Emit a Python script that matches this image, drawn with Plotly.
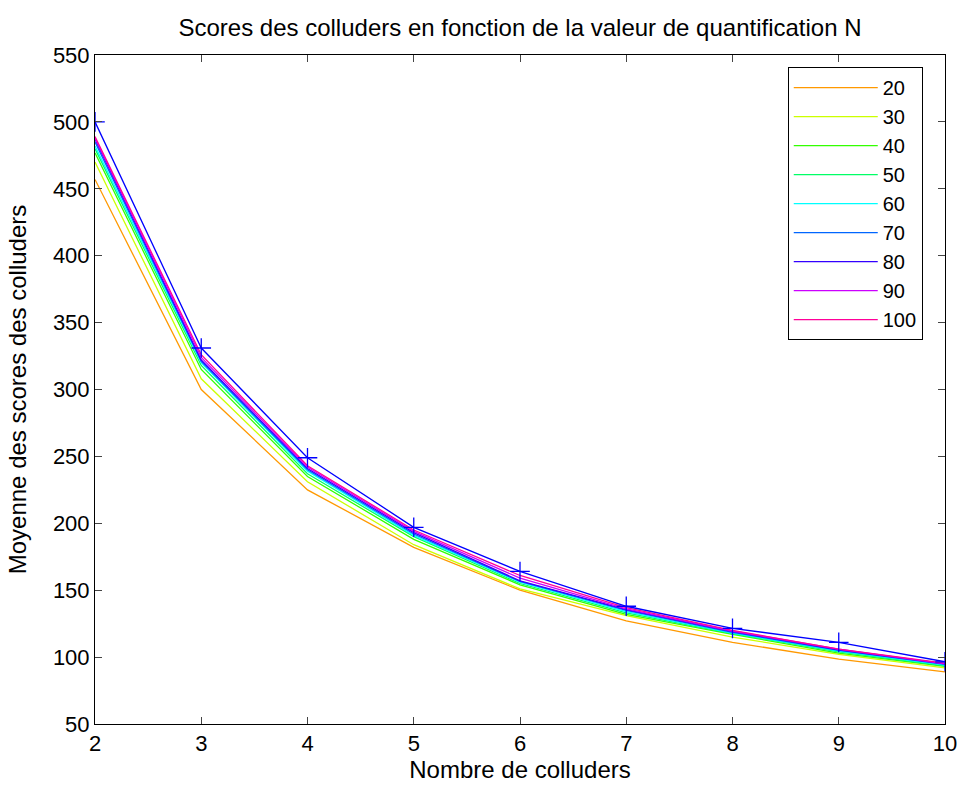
import plotly.graph_objects as go

colluders = [2, 3, 4, 5, 6, 7, 8, 9, 10]
n_values = ['20', '30', '40', '50', '60', '70', '80', '90', '100']

scores_20 = [457, 300, 225, 182, 150, 127, 111, 98.5, 89]
scores_30 = [470, 308, 231, 184, 151, 131, 115, 102, 92]
scores_40 = [477, 315, 235, 188, 154, 132, 117, 103, 93]
scores_50 = [480, 318, 237, 190, 155, 133, 117.5, 104, 93.5]
scores_60 = [482, 320, 239, 191, 156, 134, 118, 104.5, 94]
scores_70 = [485, 321, 240, 192, 156.5, 135, 118.5, 105, 94.5]
scores_80 = [487, 322, 241, 193, 157, 135.5, 119, 105.5, 95]
scores_90 = [488, 324, 242, 194, 159, 136, 119.5, 106, 95]
scores_100 = [489, 326, 243, 195, 161, 137, 120, 106, 95.5]
scores_ref = [500, 331, 249, 197, 164, 138, 121.5, 111, 96.5]

series = [scores_20, scores_30, scores_40, scores_50, scores_60,
          scores_70, scores_80, scores_90, scores_100]
# hsv(10) colormap, first (red) unused
colors = ['#ff9900', '#ccff00', '#33ff00', '#00ff66', '#00ffff',
          '#0066ff', '#3300ff', '#cc00ff', '#ff0099']

fig = go.Figure()
for name, vals, col in zip(n_values, series, colors):
    fig.add_trace(go.Scatter(x=colluders, y=vals, name=name, mode='lines',
                             line=dict(color=col, width=1.3)))

fig.add_trace(go.Scatter(x=colluders, y=scores_ref, mode='lines+markers',
                         showlegend=False,
                         line=dict(color='#0000ff', width=1.3),
                         marker=dict(symbol='cross-thin-open', size=14,
                                     line=dict(color='#0000ff', width=1.3))))

axis_common = dict(showline=True, linecolor='black', linewidth=1, mirror='ticks',
                   ticks='inside', ticklen=7, tickcolor='#444', showgrid=False,
                   zeroline=False, automargin=False,
                   tickfont=dict(size=22, color='black'))

fig.update_xaxes(range=[2, 10], dtick=1, **axis_common,
                 title=dict(text='Nombre de colluders', font=dict(size=24, color='black'),
                            standoff=0))
fig.update_yaxes(range=[50, 550], dtick=50, **axis_common,
                 title=dict(text='Moyenne des scores des colluders',
                            font=dict(size=24, color='black'), standoff=19))

fig.update_layout(
    width=962, height=789,
    font=dict(family='Liberation Sans, Arial, sans-serif', color='black'),
    title=dict(text='Scores des colluders en fonction de la valeur de quantification N',
               font=dict(size=24, color='black'), x=0.5, xref='paper', xanchor='center',
               y=0.965, yanchor='middle'),
    margin=dict(l=95, r=17, t=55, b=65),
    plot_bgcolor='white', paper_bgcolor='white',
    legend=dict(x=0.815, y=0.982, xanchor='left', yanchor='top',
                bordercolor='black', borderwidth=1, bgcolor='white',
                font=dict(size=20, color='black'), itemwidth=84,
                tracegroupgap=0),
)

# drop the default 8px page margin so the figure fills the window exactly
fig.write_html("out.html", config={'displayModeBar': False},
               post_script="document.body.style.margin='0';")
